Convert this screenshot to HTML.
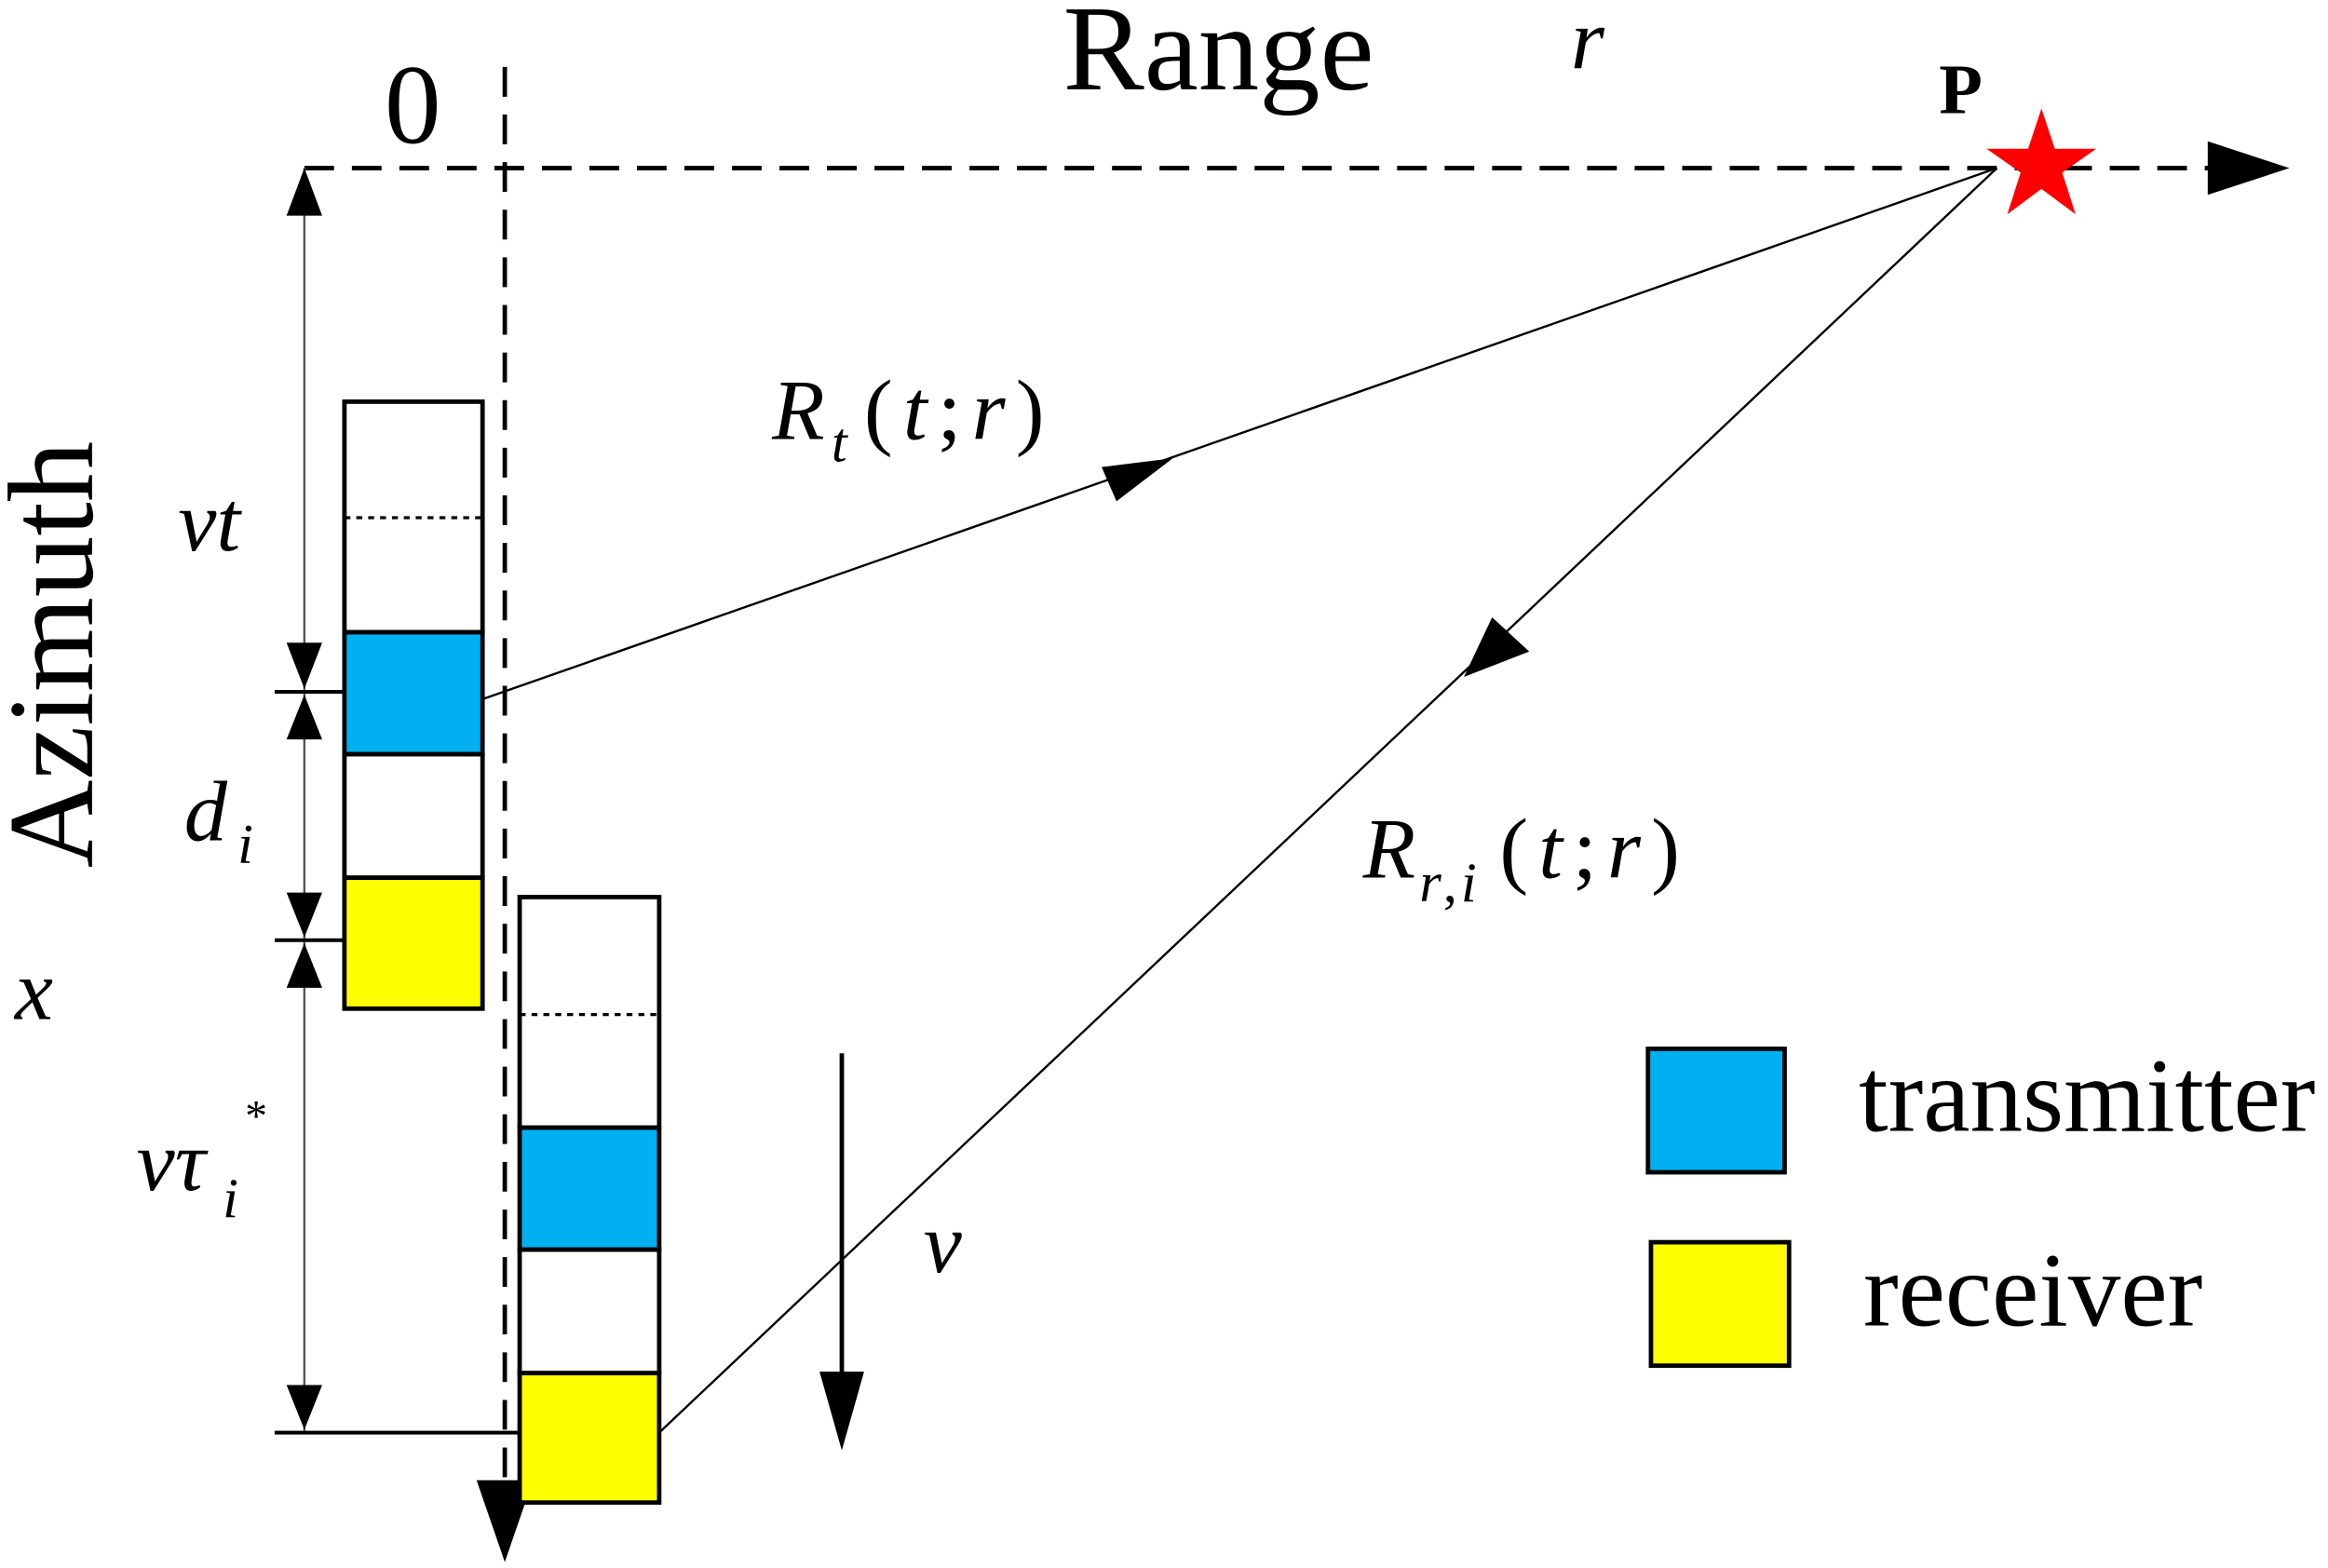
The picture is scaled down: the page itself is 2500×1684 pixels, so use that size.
<!DOCTYPE html>
<html><head><meta charset="utf-8"><style>html,body{margin:0;padding:0;background:#fff}svg{display:block}</style></head>
<body>
<svg width="2500" height="1684" viewBox="0 0 1568 1054" preserveAspectRatio="none" xmlns="http://www.w3.org/2000/svg" font-family="Liberation Serif, serif">
<!-- axes -->
<line x1="205" y1="113" x2="1490" y2="113" stroke="#000" stroke-width="3" stroke-dasharray="20,12"/>
<path d="M1487,95L1542,113L1487,131z"/>
<line x1="340" y1="45" x2="340" y2="1000" stroke="#000" stroke-width="3" stroke-dasharray="20,12"/>
<path d="M321,995L340,1050L359,995z"/>
<text x="259" y="96" font-size="76">0</text>
<text x="716" y="60" font-size="82">Range</text>
<text x="1058" y="46" font-size="58" font-style="italic">r</text>
<text x="1306" y="76" font-size="48" font-weight="bold">P</text>
<polygon fill="#f00" points="1375,73 1384,100 1412,100 1389,116 1398,144 1375,127 1352,144 1361,116 1338,100 1366,100"/>
<!-- rays -->
<line x1="325" y1="470" x2="1345" y2="113" stroke="#000" stroke-width="1.5"/>
<polygon points="790,308 752,337 742,314"/>
<line x1="444" y1="963" x2="1345" y2="113" stroke="#000" stroke-width="1.5"/>
<polygon points="986,455 1005,415 1030,438"/>
<!-- antennas -->
<g stroke="#000" stroke-width="3">
<rect x="232" y="270" width="93" height="155" fill="#fff"/>
<rect x="232" y="425" width="93" height="82" fill="#00b0f0"/>
<rect x="232" y="507" width="93" height="83" fill="#fff"/>
<rect x="232" y="590" width="93" height="88" fill="#ff0"/>
<rect x="350" y="603" width="94" height="155" fill="#fff"/>
<rect x="350" y="758" width="94" height="82" fill="#00b0f0"/>
<rect x="350" y="840" width="94" height="83" fill="#fff"/>
<rect x="350" y="923" width="94" height="87" fill="#ff0"/>
</g>
<line x1="232" y1="348" x2="325" y2="348" stroke="#000" stroke-width="2" stroke-dasharray="4,4"/>
<line x1="350" y1="682" x2="444" y2="682" stroke="#000" stroke-width="2" stroke-dasharray="4,4"/>
<!-- dimension -->
<line x1="205" y1="113" x2="205" y2="963" stroke="#555" stroke-width="1.5"/>
<g>
<polygon points="205,113 193,145 217,145"/>
<polygon points="205,463 193,432 217,432"/>
<polygon points="205,467 193,497 217,497"/>
<polygon points="205,630 193,600 217,600"/>
<polygon points="205,634 193,664 217,664"/>
<polygon points="205,961 193,931 217,931"/>
</g>
<line x1="185" y1="465" x2="232" y2="465" stroke="#000" stroke-width="2.5"/>
<line x1="185" y1="632" x2="232" y2="632" stroke="#000" stroke-width="2.5"/>
<line x1="185" y1="963" x2="350" y2="963" stroke="#000" stroke-width="2.5"/>
<!-- labels -->
<text x="120" y="370" font-size="58" font-style="italic">vt</text>
<text x="124" y="565" font-size="58" font-style="italic">d</text>
<text x="160" y="580" font-size="38" font-style="italic">i</text>
<text x="10" y="685" font-size="58" font-style="italic">x</text>
<text x="92" y="800" font-size="58" font-style="italic">vτ</text>
<text x="150" y="818" font-size="38" font-style="italic">i</text>
<text x="165" y="760" font-size="30">*</text>
<text transform="translate(62,440) rotate(-90)" text-anchor="middle" font-size="82">Azimuth</text>
<text x="520" y="295" font-size="58" font-style="italic">R</text>
<text x="560" y="310" font-size="38" font-style="italic">t</text>
<text x="582" y="295" font-size="58" letter-spacing="7"><tspan>(</tspan><tspan font-style="italic">t</tspan><tspan>;</tspan><tspan font-style="italic">r</tspan><tspan>)</tspan></text>
<text x="918" y="590" font-size="58" font-style="italic">R</text>
<text x="956" y="606" font-size="38" font-style="italic">r</text><text x="972" y="606" font-size="38">,</text><text x="984" y="606" font-size="38" font-style="italic">i</text>
<text x="1010" y="590" font-size="58" letter-spacing="7"><tspan>(</tspan><tspan font-style="italic">t</tspan><tspan>;</tspan><tspan font-style="italic">r</tspan><tspan>)</tspan></text>
<!-- v arrow -->
<line x1="567" y1="708" x2="567" y2="930" stroke="#000" stroke-width="3"/>
<polygon points="552,922 582,922 567,975"/>
<text x="622" y="855" font-size="58" font-style="italic">v</text>
<!-- legend -->
<rect x="1110" y="705" width="92" height="83" fill="#00b0f0" stroke="#000" stroke-width="3"/>
<rect x="1112" y="835" width="93" height="83" fill="#ff0" stroke="#000" stroke-width="3"/>
<text x="1252" y="760" font-size="71">transmitter</text>
<text x="1255" y="891" font-size="71">receiver</text>
</svg>
</body></html>
